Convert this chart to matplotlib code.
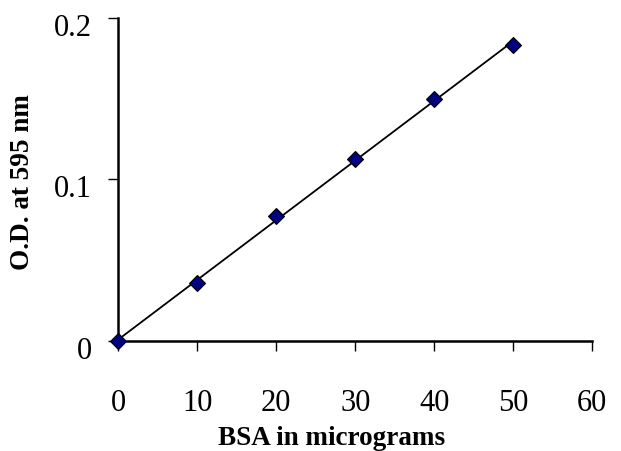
import numpy as np
import matplotlib
matplotlib.use("Agg")
import matplotlib.pyplot as plt
from matplotlib.transforms import ScaledTranslation

# Data
bsa_ug = [0, 10, 20, 30, 40, 50]
od_595 = [0.0, 0.0358, 0.0775, 0.1126, 0.1498, 0.1835]
x_ticks = [0, 10, 20, 30, 40, 50, 60]
y_ticks = [0, 0.1, 0.2]
y_tick_labels = ["0", "0.1", "0.2"]
x_label = "BSA in micrograms"
y_label = "O.D. at 595 nm"

plt.rcParams['font.family'] = ['Liberation Serif', 'DejaVu Serif']

fig = plt.figure(figsize=(6.21, 4.52), dpi=100)
ax = fig.add_axes([118.3/621, 1-341.7/452, (592.3-118.3)/621, (341.7-19)/452])

# linear trendline
slope, intercept = np.polyfit(bsa_ug, od_595, 1)
xs = np.array([bsa_ug[0], bsa_ug[-1]])
ax.plot(xs, slope*xs + intercept, color='black', lw=1.3, zorder=2)
ax.plot(bsa_ug, od_595, linestyle='none', marker='D', markersize=8.5,
        markerfacecolor='#000080', markeredgecolor='black', markeredgewidth=0.8,
        zorder=3, clip_on=False)

ax.set_xlim(0, 60)
ax.set_ylim(0, 0.2)
ax.set_xticks(x_ticks)
ax.set_yticks(y_ticks)
ax.set_yticklabels(y_tick_labels)
for s in ['top', 'right']:
    ax.spines[s].set_visible(False)
for s in ['left', 'bottom']:
    ax.spines[s].set_linewidth(1.8)
ax.tick_params(axis='x', direction='out', length=7, width=1, pad=27, labelsize=22)
ax.tick_params(axis='y', direction='out', length=7, width=1, pad=12, labelsize=22)
off = ScaledTranslation(0, -6/100, fig.dpi_scale_trans)
for lab in ax.get_yticklabels():
    lab.set_transform(lab.get_transform() + off)

fig.text(331.7/621, 1-445/452, x_label, ha='center', va='baseline',
         fontsize=19.5, fontweight='bold')
fig.text(23/621, 1-182/452, y_label, ha='center', va='center', rotation=90,
         fontsize=19.5, fontweight='bold')

fig.savefig("out.png", dpi=100)
